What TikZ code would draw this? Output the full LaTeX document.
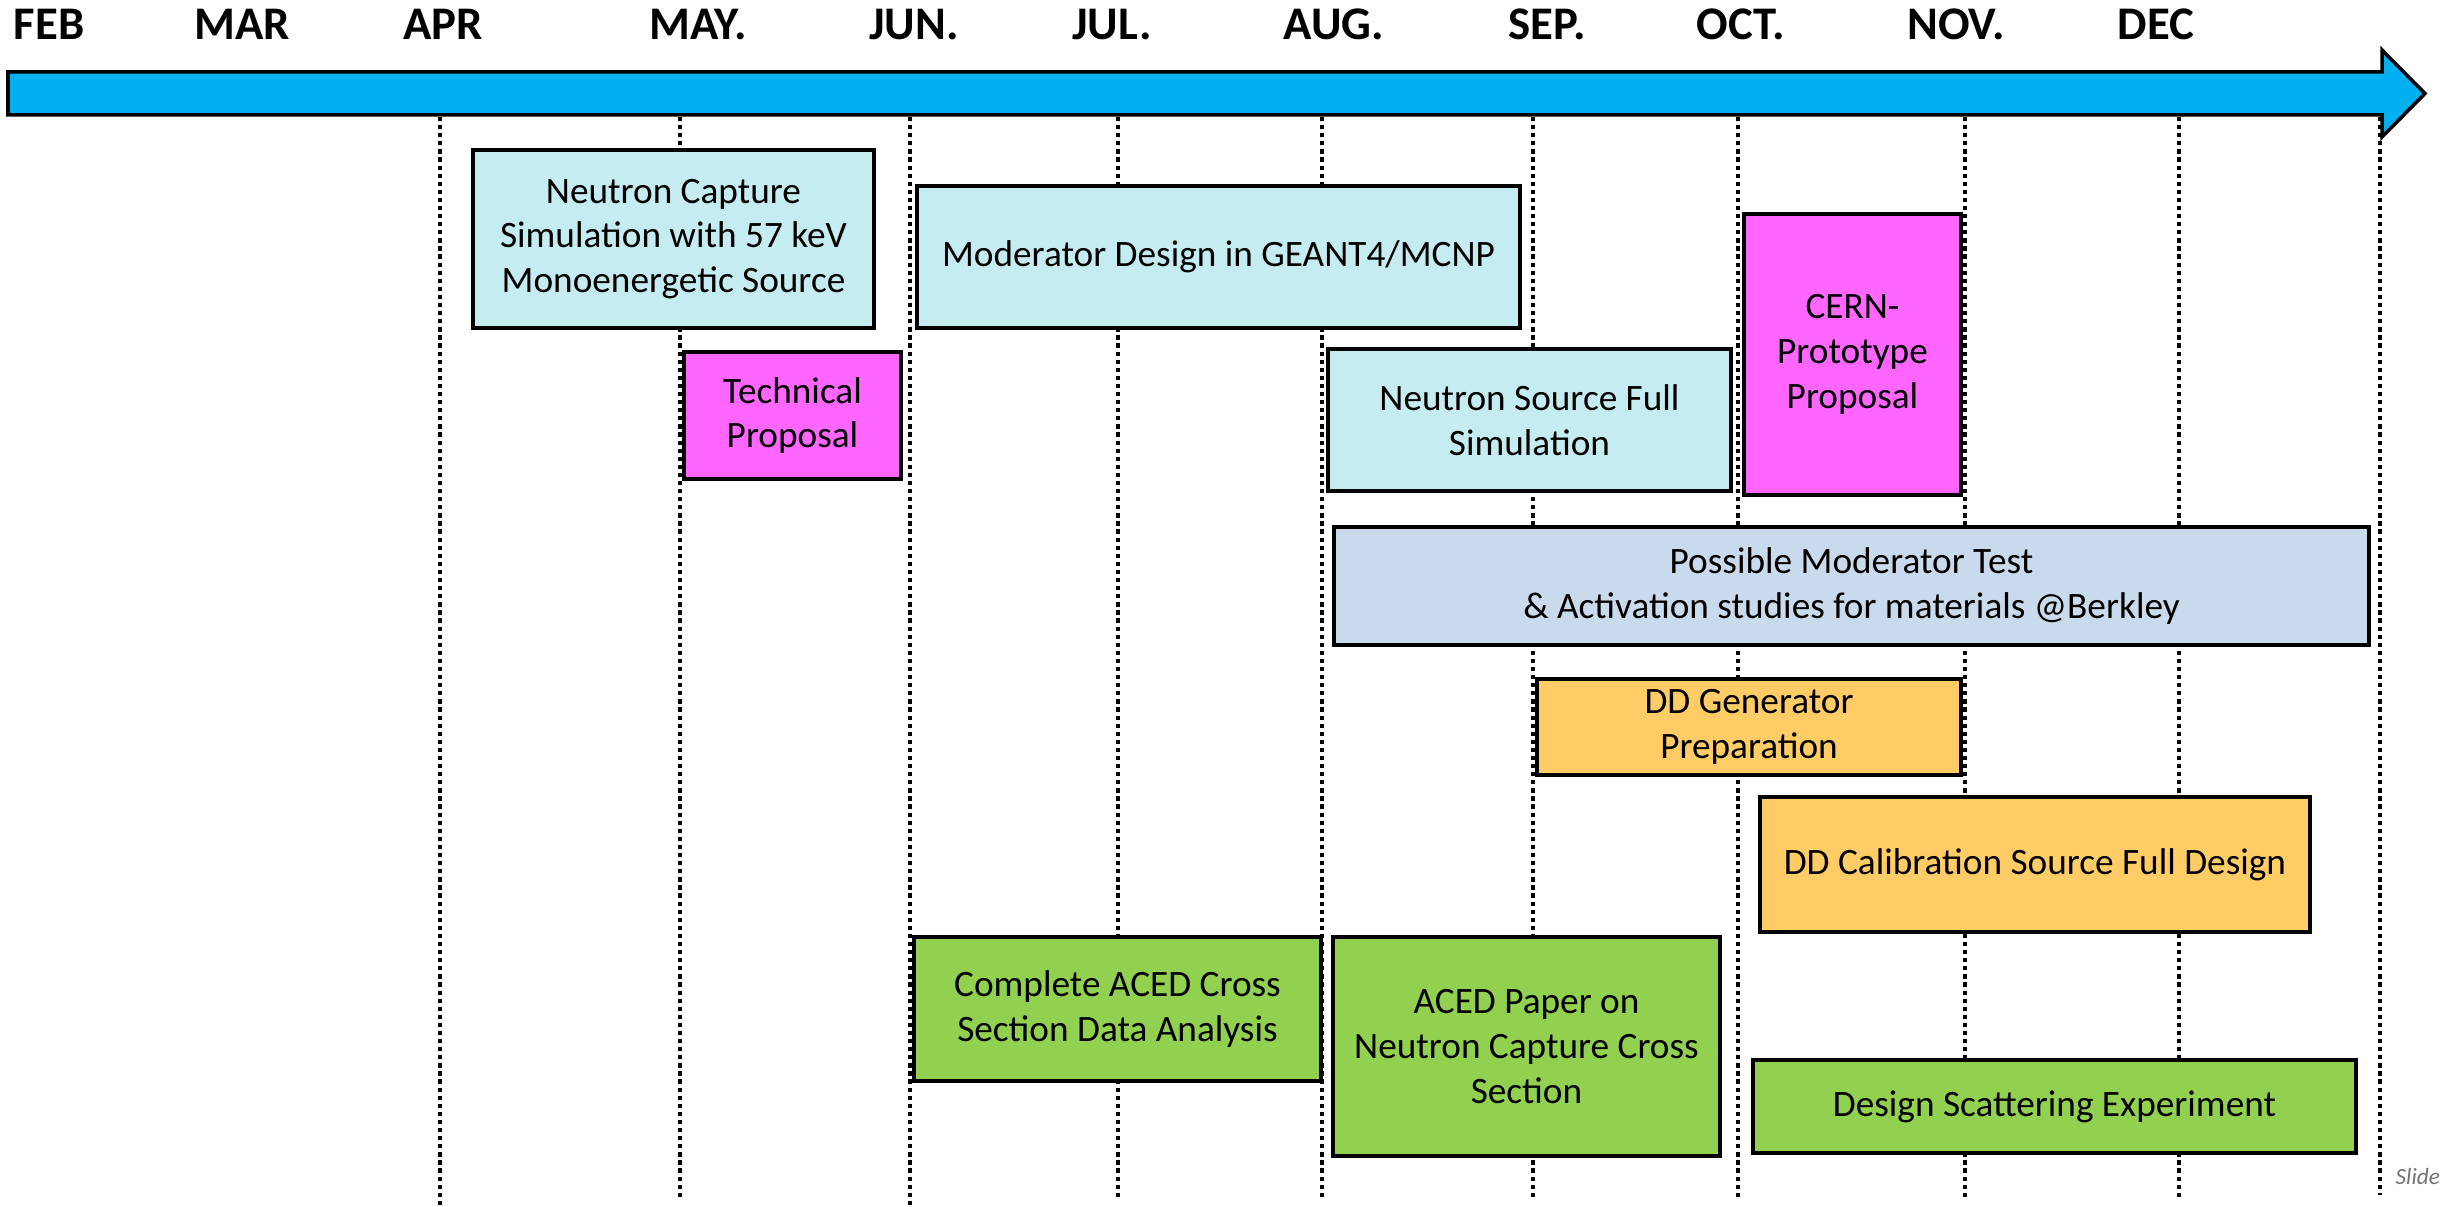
\documentclass[tikz,border=0pt]{standalone}
\usepackage{fontspec}
\setmainfont{Carlito}

\definecolor{timeblue}{RGB}{0,176,240}
\definecolor{simcyan}{RGB}{197,236,240}
\definecolor{propmagenta}{RGB}{255,102,255}
\definecolor{testblue}{RGB}{200,218,235}
\definecolor{ddorange}{RGB}{255,204,102}
\definecolor{acedgreen}{RGB}{146,208,80}

\tikzset{
    task/.style={draw, line width=1.1pt, align=center, inner sep=0pt,
        font=\fontsize{10.6}{12.7}\selectfont},
    month/.style={anchor=base, font=\fontsize{13.3}{16}\selectfont\bfseries},
    gridline/.style={line width=0.95pt, dash pattern=on 1.2pt off 1.1pt}
}

\begin{document}
\begin{tikzpicture}[x=0.01cm, y=-0.01cm]
        \useasboundingbox (0, 0) rectangle (2447, 1207);
        \path [draw, gridline] (440, 117) -- (440, 1207) (680, 117) -- (680, 1200)
            (910, 117) -- (910, 1207) (1118, 117) -- (1118, 1200)
            (1322, 117) -- (1322, 1200) (1533, 117) -- (1533, 1200)
            (1738, 117) -- (1738, 1200) (1965, 117) -- (1965, 1200)
            (2179, 117) -- (2179, 1200) (2380, 117) -- (2380, 1195);
        \path [draw, fill=timeblue, line width=1pt] (8, 72) -- (2382, 72) -- (2382, 50)
            -- (2425, 93.5) -- (2382, 137) -- (2382, 115) -- (8, 115) -- cycle;
        \node [month] (feb) at (49, 40) {FEB};
        \node [month] (mar) at (242, 40) {MAR};
        \node [month] (apr) at (443, 40) {APR};
        \node [month] (may) at (698, 40) {MAY.};
        \node [month] (jun) at (914, 40) {JUN.};
        \node [month] (jul) at (1112, 40) {JUL.};
        \node [month] (aug) at (1334, 40) {AUG.};
        \node [month] (sep) at (1547, 40) {SEP.};
        \node [month] (oct) at (1741, 40) {OCT.};
        \node [month] (nov) at (1956, 40) {NOV.};
        \node [month] (dec) at (2156, 40) {DEC};
        \node [task, fill=simcyan, minimum width=4.01cm, minimum height=1.78cm] (ncsim)
            at (673.5, 239) {Neutron Capture\\Simulation with 57 keV\\Monoenergetic Source};
        \node [task, fill=propmagenta, minimum width=2.17cm, minimum height=1.27cm] (techprop)
            at (792.5, 415.5) {Technical\\Proposal};
        \node [task, fill=simcyan, minimum width=6.03cm, minimum height=1.42cm] (moddesign)
            at (1218.5, 257) {Moderator Design in GEANT4/MCNP};
        \node [task, fill=simcyan, minimum width=4.03cm, minimum height=1.42cm] (nsfull)
            at (1529.5, 420) {Neutron Source Full\\Simulation};
        \node [task, fill=propmagenta, minimum width=2.17cm, minimum height=2.81cm] (cern)
            at (1852.5, 354.5) {CERN-\\Prototype\\Proposal};
        \node [task, fill=testblue, minimum width=10.35cm, minimum height=1.18cm] (modtest)
            at (1851.5, 586) {Possible Moderator Test\\\& Activation studies for materials @Berkley};
        \node [task, fill=ddorange, minimum width=4.24cm, minimum height=0.96cm] (ddgen)
            at (1749, 727) {DD Generator\\Preparation};
        \node [task, fill=ddorange, minimum width=5.50cm, minimum height=1.35cm] (ddcal)
            at (2035, 864.5) {DD Calibration Source Full Design};
        \node [task, fill=acedgreen, minimum width=4.07cm, minimum height=1.44cm] (acedana)
            at (1117.5, 1009) {Complete ACED Cross\\Section Data Analysis};
        \node [task, fill=acedgreen, minimum width=3.87cm, minimum height=2.19cm] (acedpaper)
            at (1526.5, 1046.5) {ACED Paper on\\Neutron Capture Cross\\Section};
        \node [task, fill=acedgreen, minimum width=6.03cm, minimum height=0.93cm] (scatter)
            at (2054.5, 1106.5) {Design Scattering Experiment};
        \node [anchor=base west, inner sep=0pt, text=black!55,
            font=\fontsize{6.6}{8}\selectfont\itshape] (slide) at (2395, 1185) {Slide};
    \end{tikzpicture}
\end{document}
